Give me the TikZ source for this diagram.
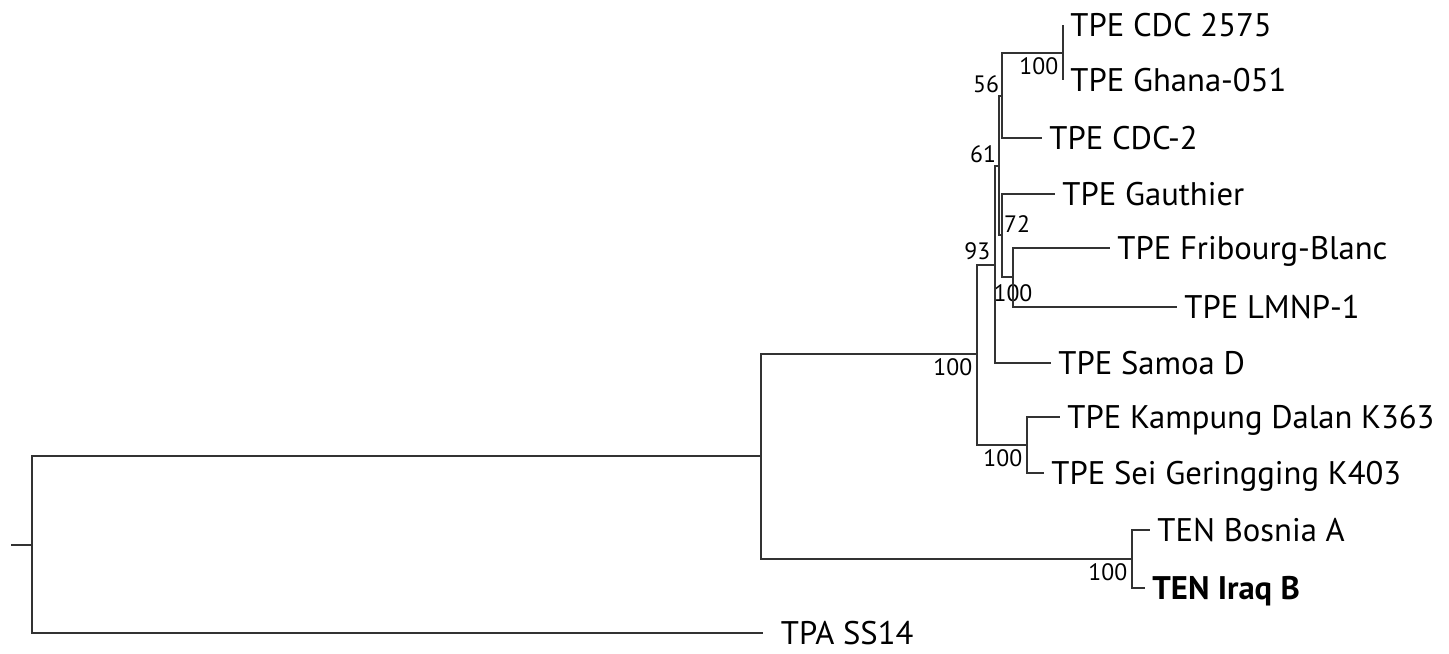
\documentclass[tikz,border=0pt]{standalone}
\usepackage{fontspec}
\setmainfont{PT Sans}
\usetikzlibrary{positioning}
\definecolor{treegray}{RGB}{50, 50, 50}
\tikzset{
    branch/.style={line width=0.85pt, color=treegray},
    taxon/.style={anchor=west, inner xsep=4pt, inner ysep=0pt,
                  font=\fontsize{18.6}{20}\selectfont,
                  text height=12.8pt, text depth=0pt},
    boot/.style={font=\fontsize{13.5}{15}\selectfont, inner sep=2.5pt},
}

\begin{document}
\begin{tikzpicture}[x=0.02cm, y=-0.02cm]
    \useasboundingbox (0,0) rectangle (1449,653);

    % internal nodes
    \coordinate (stub) at (11,545);
    \coordinate (root) at (32,545);
    \coordinate (nA) at (761,456);
    \coordinate (nB) at (977,354);
    \coordinate (nC) at (995,265);
    \coordinate (nD) at (999,166);
    \coordinate (nE) at (1002,96);
    \coordinate (nF) at (1063,53);
    \coordinate (nG) at (1002,235);
    \coordinate (nH) at (1013,277);
    \coordinate (nI) at (1027,445);
    \coordinate (nJ) at (1132,559);

    % taxa
    \node[taxon] (cdc2575) at (1063,25) {TPE CDC 2575};
    \node[taxon] (ghana) at (1063,80) {TPE Ghana-051};
    \node[taxon] (cdc2) at (1042,138) {TPE CDC-2};
    \node[taxon] (gauthier) at (1055,194) {TPE Gauthier};
    \node[taxon] (fribourg) at (1110,248) {TPE Fribourg-Blanc};
    \node[taxon] (lmnp) at (1177,307) {TPE LMNP-1};
    \node[taxon] (samoa) at (1051,363) {TPE Samoa D};
    \node[taxon] (kampung) at (1060,417) {TPE Kampung Dalan K363};
    \node[taxon] (sei) at (1044,473) {TPE Sei Geringging K403};
    \node[taxon] (bosnia) at (1150,530) {TEN Bosnia A};
    \node[taxon, font=\fontsize{18.6}{20}\selectfont\bfseries] (iraq) at (1145,588) {TEN Iraq B};
    \node[taxon, xshift=6pt] (tpa) at (763,633) {TPA SS14};

    % bootstrap values
    \node[boot, below left] (bF) at (nF) {100};
    \node[boot, above left, inner sep=1.5pt] (bE) at (nE) {56};
    \node[boot, above left, inner sep=1.5pt] (bD) at (nD) {61};
    \node[boot, above right, inner sep=1pt] (bG) at (nG) {72};
    \node[boot, above left] (bC) at (nC) {93};
    \node[boot, below, inner sep=4pt] (bH) at (nH) {100};
    \node[boot, below left] (bB) at (nB) {100};
    \node[boot, below left] (bI) at (nI) {100};
    \node[boot, below left] (bJ) at (nJ) {100};

    % branches
    \draw[branch] (stub) -- (root);
    \draw[branch] (root) |- (nA);
    \draw[branch] (root) |- ([xshift=-6pt]tpa.west);
    \draw[branch] (nA) |- (nB);
    \draw[branch] (nA) |- (nJ);
    \draw[branch] (nB) |- (nC);
    \draw[branch] (nB) |- (nI);
    \draw[branch] (nC) |- (nD);
    \draw[branch] (nC) |- (samoa.west);
    \draw[branch] (nD) |- (nE);
    \draw[branch] (nD) |- (nG);
    \draw[branch] (nE) |- (nF);
    \draw[branch] (nE) |- (cdc2.west);
    \draw[branch] (nF) |- (cdc2575.west);
    \draw[branch] (nF) |- (ghana.west);
    \draw[branch] (nG) |- (gauthier.west);
    \draw[branch] (nG) |- (nH);
    \draw[branch] (nH) |- (fribourg.west);
    \draw[branch] (nH) |- (lmnp.west);
    \draw[branch] (nI) |- (kampung.west);
    \draw[branch] (nI) |- (sei.west);
    \draw[branch] (nJ) |- (bosnia.west);
    \draw[branch] (nJ) |- (iraq.west);
\end{tikzpicture}
\end{document}
